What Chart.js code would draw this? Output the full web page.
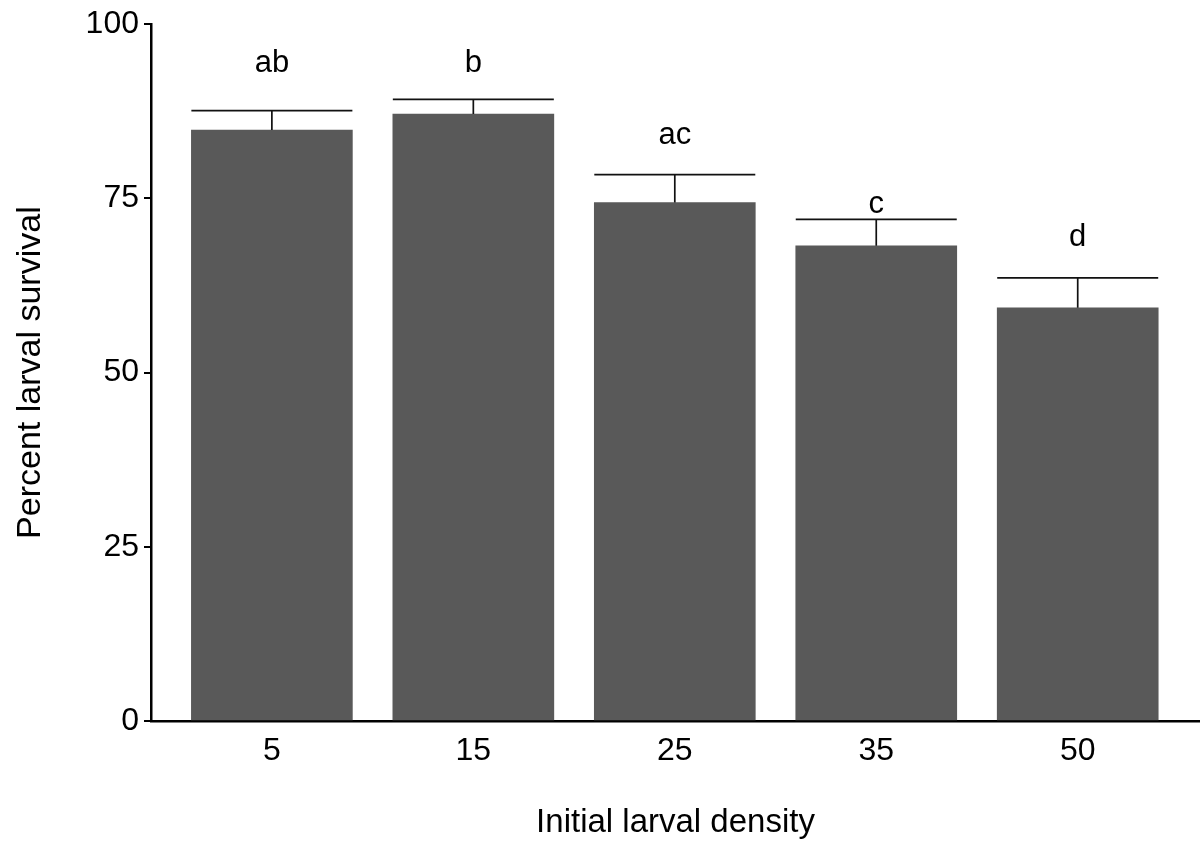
<!DOCTYPE html>
<html lang="en">
<head>
  <meta charset="UTF-8">
  <title>Percent larval survival by initial density</title>
  <script src="https://cdn.jsdelivr.net/npm/chart.js"></script>
  <style>
    html, body {
      margin: 0;
      padding: 0;
      background: #ffffff;
    }
    .wrap {
      width: 1200px;
      height: 843px;
    }
  </style>
</head>
<body>
  <div class="wrap">
    <canvas id="survivalChart" width="1200" height="843"></canvas>
  </div>

  <script>
    // data
    const densities = ['5', '15', '25', '35', '50'];
    const survival = [84.8, 87.1, 74.4, 68.2, 59.3];
    const stdErr = [2.8, 2.1, 4.0, 3.8, 4.3];
    const groupLetters = ['ab', 'b', 'ac', 'c', 'd'];
    const letterLevel = [94.4, 94.4, 84.0, 74.2, 69.4];
    const yTicks = [0, 25, 50, 75, 100];

    const FONT = '"Liberation Sans", Arial, sans-serif';

    // upper error bars + significance letters
    const errorBars = {
      id: 'errorBars',
      afterDatasetsDraw(chart) {
        const { ctx, scales: { x, y } } = chart;
        const meta = chart.getDatasetMeta(0);
        ctx.save();
        ctx.strokeStyle = '#111';
        ctx.lineWidth = 1.7;
        meta.data.forEach((bar, i) => {
          const cx = x.getPixelForValue(i);
          const half = bar.width / 2;
          const top = y.getPixelForValue(survival[i]);
          const cap = y.getPixelForValue(survival[i] + stdErr[i]);
          ctx.beginPath();
          ctx.moveTo(cx, top);
          ctx.lineTo(cx, cap);
          ctx.moveTo(cx - half, cap);
          ctx.lineTo(cx + half, cap);
          ctx.stroke();
        });
        ctx.fillStyle = '#000';
        ctx.font = '31px ' + FONT;
        ctx.textAlign = 'center';
        ctx.textBaseline = 'middle';
        groupLetters.forEach((txt, i) => {
          ctx.fillText(txt, x.getPixelForValue(i), y.getPixelForValue(letterLevel[i]));
        });
        ctx.restore();
      }
    };

    const ctx = document.getElementById('survivalChart').getContext('2d');
    new Chart(ctx, {
      type: 'bar',
      data: {
        datasets: [{
          data: survival.map((v, i) => ({ x: i, y: v })),
          backgroundColor: '#595959',
          borderWidth: 0,
          barThickness: 161
        }]
      },
      options: {
        responsive: false,
        animation: false,
        layout: { padding: { top: 17, right: 0, left: 0, bottom: 0 } },
        plugins: {
          legend: { display: false },
          tooltip: { enabled: false }
        },
        scales: {
          x: {
            type: 'linear',
            offset: false,
            min: -0.6,
            max: 4.607,
            afterBuildTicks: (scale) => {
              scale.ticks = densities.map((d, i) => ({ value: i }));
            },
            afterFit: (scale) => { scale.height = 122; },
            grid: { display: false },
            border: { display: true, color: '#000', width: 2.5 },
            ticks: {
              color: '#000',
              font: { family: FONT, size: 32 },
              padding: 3,
              autoSkip: false,
              maxRotation: 0,
              callback: (v) => densities[v]
            },
            title: {
              display: true,
              text: 'Initial larval density',
              color: '#000',
              font: { family: FONT, size: 33 },
              padding: { top: 36, bottom: 0 }
            }
          },
          y: {
            min: 0,
            max: 100,
            afterBuildTicks: (scale) => {
              scale.ticks = yTicks.map(v => ({ value: v }));
            },
            afterFit: (scale) => { scale.width = 151; },
            grid: {
              display: true,
              drawOnChartArea: false,
              drawTicks: true,
              tickLength: 7,
              color: '#000',
              lineWidth: 2
            },
            border: { display: true, color: '#000', width: 2.5 },
            ticks: {
              color: '#000',
              font: { family: FONT, size: 32 },
              padding: 5
            },
            title: {
              display: true,
              text: 'Percent larval survival',
              color: '#000',
              font: { family: FONT, size: 34 },
              padding: { top: 10, bottom: 10 }
            }
          }
        }
      },
      plugins: [errorBars]
    });
  </script>
</body>
</html>
